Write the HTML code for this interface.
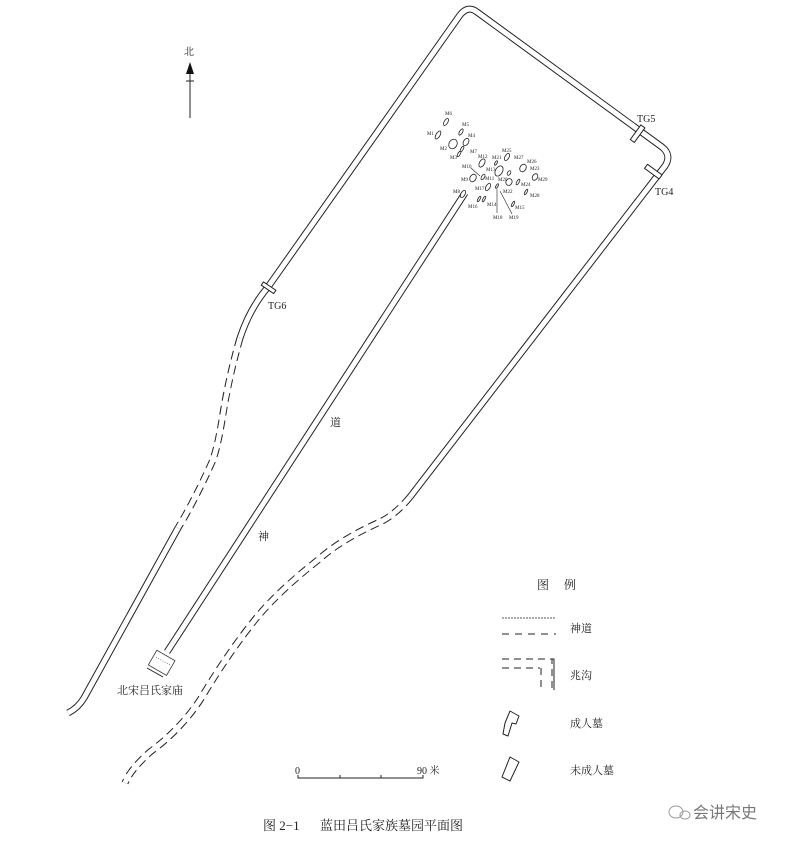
<!DOCTYPE html>
<html><head><meta charset="utf-8"><style>
html,body{margin:0;padding:0;background:#fff;}
svg{display:block;}
text{font-family:"Liberation Serif","Noto Serif CJK SC",serif;fill:#222;}
.s{font-size:5px;}
</style></head><body>
<svg width="788" height="845" viewBox="0 0 788 845" xmlns="http://www.w3.org/2000/svg">
<g fill="none" stroke-linejoin="round">
<path d="M268,287 L460,15 Q468,5 477,12 L662,147 Q672,155 665,166 L410,497" stroke="#222" stroke-width="7"/>
<path d="M268,287 L460,15 Q468,5 477,12 L662,147 Q672,155 665,166 L410,497" stroke="#fff" stroke-width="5"/>
<path d="M268,287 Q250,308 240,338" stroke="#222" stroke-width="7"/>
<path d="M268,287 Q250,308 240,338" stroke="#fff" stroke-width="5"/>
<path d="M240,338 Q228,380 222,420 Q217,450 212,462 Q195,500 178,528" stroke="#222" stroke-width="7" stroke-dasharray="9,5"/>
<path d="M240,338 Q228,380 222,420 Q217,450 212,462 Q195,500 178,528" stroke="#fff" stroke-width="5"/>
<path d="M178,528 L84,698 Q78,708 68,713" stroke="#222" stroke-width="7"/>
<path d="M178,528 L84,698 Q78,708 68,713" stroke="#fff" stroke-width="5"/>
<path d="M410,497 Q395,515 380,522 Q340,540 318,560 Q280,590 258,616 Q230,650 200,700 Q180,730 150,752 Q130,770 125,783" stroke="#222" stroke-width="7" stroke-dasharray="9,5"/>
<path d="M410,497 Q395,515 380,522 Q340,540 318,560 Q280,590 258,616 Q230,650 200,700 Q180,730 150,752 Q130,770 125,783" stroke="#fff" stroke-width="5"/>
<path d="M465,193 L167,652" stroke="#222" stroke-width="7"/>
<path d="M465,193 L167,652" stroke="#fff" stroke-width="5"/>
<rect x="635" y="125" width="5" height="18" stroke="#222" stroke-width="1" fill="#fff" transform="rotate(36 638 134)"/>
<rect x="651" y="163" width="5" height="18" stroke="#222" stroke-width="1" fill="#fff" transform="rotate(-54 653 172)"/>
<rect x="267" y="280" width="4" height="15" stroke="#222" stroke-width="1" fill="#fff" transform="rotate(-56 269 288)"/>
<rect x="151" y="654" width="21" height="17" stroke="#333" stroke-width="0.8" fill="#fff" transform="rotate(30 161 663)"/>
<path d="M147,668 L163,677" stroke="#222" stroke-width="1"/>
<path d="M156,657 L170,665" stroke="#444" stroke-width="0.6" stroke-dasharray="1,1.5"/>
<line x1="190" y1="68" x2="190" y2="118" stroke="#222" stroke-width="1"/>
<polygon points="190,62 186,74 194,74" fill="#111"/>
<line x1="186" y1="81" x2="194" y2="81" stroke="#222"/>
<path d="M298,775 L298,778 L423,778 L423,775 M340,778 L340,775 M381,778 L381,775" stroke="#222" stroke-width="1"/>
<line x1="502" y1="618" x2="556" y2="618" stroke="#222" stroke-width="0.8" stroke-dasharray="2,1"/>
<line x1="502" y1="634" x2="556" y2="634" stroke="#222" stroke-width="1" stroke-dasharray="7,6"/>
<path d="M502,659 L552,659 L552,689" stroke="#222" stroke-width="1" stroke-dasharray="7,5"/>
<path d="M552,659 L554,659 L554,690" stroke="#222" stroke-width="1"/>
<path d="M502,668 L540,668 M541,668 L541,689" stroke="#222" stroke-width="1" stroke-dasharray="7,5"/>
<path d="M510,711 L519,716 L516,724 L512,723 L508,736 L503,734 L505,723 Z" stroke="#222" stroke-width="1"/>
<path d="M510,757 L519,762 L510,781 L502,777 Z" stroke="#222" stroke-width="1"/>
<g stroke="#222" stroke-width="0.8" fill="#fff">
<ellipse cx="446" cy="122" rx="1.8" ry="4" transform="rotate(30 446 122)"/>
<ellipse cx="461" cy="132" rx="1.5" ry="3.5" transform="rotate(30 461 132)"/>
<ellipse cx="438" cy="135" rx="2" ry="4.5" transform="rotate(30 438 135)"/>
<ellipse cx="466" cy="142" rx="2.5" ry="4" transform="rotate(30 466 142)"/>
<ellipse cx="453" cy="144" rx="4" ry="5" transform="rotate(30 453 144)"/>
<ellipse cx="462" cy="149" rx="1.2" ry="3" transform="rotate(30 462 149)"/>
<ellipse cx="459" cy="154" rx="1.2" ry="3" transform="rotate(30 459 154)"/>
<ellipse cx="482" cy="163" rx="2.5" ry="4.5" transform="rotate(30 482 163)"/>
<ellipse cx="496" cy="163" rx="1" ry="2.5" transform="rotate(30 496 163)"/>
<ellipse cx="507" cy="157" rx="2" ry="4" transform="rotate(30 507 157)"/>
<ellipse cx="509" cy="173" rx="1.5" ry="2.5" transform="rotate(30 509 173)"/>
<ellipse cx="523" cy="168" rx="3" ry="4" transform="rotate(30 523 168)"/>
<ellipse cx="499" cy="171" rx="3.5" ry="5.5" transform="rotate(30 499 171)"/>
<ellipse cx="473" cy="178" rx="3" ry="4" transform="rotate(30 473 178)"/>
<ellipse cx="483" cy="177" rx="1.5" ry="3" transform="rotate(30 483 177)"/>
<ellipse cx="509" cy="182" rx="3" ry="3.5" transform="rotate(30 509 182)"/>
<ellipse cx="518" cy="182" rx="1.2" ry="3" transform="rotate(30 518 182)"/>
<ellipse cx="535" cy="177" rx="2.5" ry="3.5" transform="rotate(30 535 177)"/>
<ellipse cx="488" cy="187" rx="2" ry="4" transform="rotate(30 488 187)"/>
<ellipse cx="526" cy="192" rx="1" ry="3" transform="rotate(30 526 192)"/>
<ellipse cx="463" cy="194" rx="2" ry="4" transform="rotate(30 463 194)"/>
<ellipse cx="479" cy="199" rx="1" ry="3" transform="rotate(30 479 199)"/>
<ellipse cx="484" cy="199" rx="1" ry="3" transform="rotate(30 484 199)"/>
<ellipse cx="513" cy="204" rx="1" ry="3" transform="rotate(30 513 204)"/>
<ellipse cx="497" cy="186" rx="1" ry="2.5" transform="rotate(30 497 186)"/>
</g>
<path d="M497,189 L497,213 M500,191 L512,214 M471,168 L480,176" stroke="#222" stroke-width="0.6"/>
</g>
<g class="s">
<text x="445" y="115">M6</text><text x="462" y="126">M5</text><text x="427" y="135">M1</text>
<text x="468" y="137">M4</text><text x="440" y="150">M2</text><text x="470" y="153">M7</text>
<text x="450" y="159">M3</text><text x="478" y="158">M12</text><text x="492" y="159">M21</text>
<text x="502" y="152">M25</text><text x="514" y="159">M27</text><text x="527" y="163">M26</text>
<text x="530" y="170">M23</text><text x="462" y="168">M10</text><text x="486" y="171">M13</text>
<text x="461" y="181">M9</text><text x="485" y="180">M11</text><text x="498" y="181">M20</text>
<text x="521" y="186">M24</text><text x="538" y="181">M29</text><text x="475" y="190">M17</text>
<text x="503" y="193">M22</text><text x="530" y="197">M28</text><text x="453" y="193">M8</text>
<text x="468" y="208">M16</text><text x="487" y="206">M14</text><text x="515" y="209">M15</text>
<text x="493" y="219">M18</text><text x="509" y="219">M19</text>
</g>
<text x="637" y="122" font-size="10">TG5</text>
<text x="655" y="195" font-size="10">TG4</text>
<text x="268" y="309" font-size="10">TG6</text>
<text x="184" y="55" font-size="10">北</text>
<text x="330" y="426" font-size="11">道</text>
<text x="258" y="540" font-size="11">神</text>
<text x="117" y="694" font-size="11">北宋吕氏家庙</text>
<text x="295" y="774" font-size="10">0</text>
<text x="417" y="774" font-size="10">90 米</text>
<text x="537" y="589" font-size="12">图</text><text x="564" y="589" font-size="12">例</text>
<text x="570" y="632" font-size="11">神道</text>
<text x="570" y="679" font-size="11">兆沟</text>
<text x="570" y="727" font-size="11">成人墓</text>
<text x="570" y="774" font-size="11">未成人墓</text>
<text x="263" y="830" font-size="13">图 2−1</text>
<text x="320" y="830" font-size="13">蓝田吕氏家族墓园平面图</text>
<g stroke="#999" fill="none" stroke-width="1"><ellipse cx="676" cy="812" rx="7" ry="6"/><ellipse cx="685" cy="815" rx="5" ry="4"/></g>
<text x="693" y="818" font-size="16" style="fill:#777;font-family:'Liberation Sans','Noto Sans CJK SC',sans-serif">会讲宋史</text>
</svg>
</body></html>
